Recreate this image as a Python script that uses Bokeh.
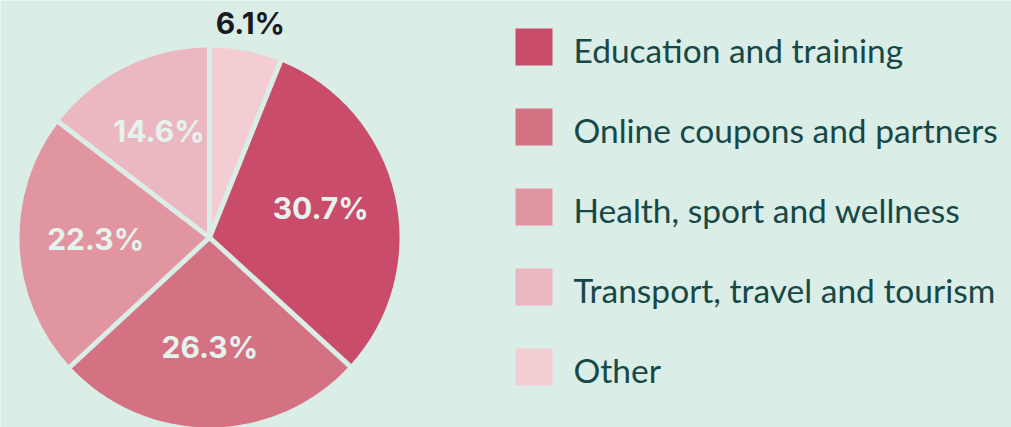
import math
from bokeh.plotting import figure
from bokeh.models import ColumnDataSource, Range1d
from bokeh.core.properties import value
from bokeh.embed import file_html
from bokeh.resources import INLINE

# ---- data ----
categories = ["Education and training", "Online coupons and partners",
              "Health, sport and wellness", "Transport, travel and tourism", "Other"]
shares = [30.7, 26.3, 22.3, 14.6, 6.1]
labels = ["30.7%", "26.3%", "22.3%", "14.6%", "6.1%"]
colors = ["#C94C6A", "#D47284", "#E095A1", "#EBB8C1", "#F2CDD2"]
# order of slices clockwise from 12 o'clock
pie_order = [4, 0, 1, 2, 3]

BG = "#DAEDE6"
W, H = 1011, 427
cx, cy, R = 209, 190, 190

p = figure(width=W, height=H, output_backend="svg", toolbar_location=None,
           x_range=Range1d(0, W), y_range=Range1d(0, H),
           x_axis_type=None, y_axis_type=None, min_border=0)
p.background_fill_color = BG
p.border_fill_color = BG
p.outline_line_color = None
p.xgrid.visible = False
p.ygrid.visible = False

total = sum(shares)
starts, ends, cols, mids = [], [], [], []
acc = 0.0
for i in pie_order:
    t0 = acc / total * 2 * math.pi
    acc += shares[i]
    t1 = acc / total * 2 * math.pi
    starts.append(math.pi / 2 - t0)
    ends.append(math.pi / 2 - t1)
    cols.append(colors[i])
    mids.append((i, (t0 + t1) / 2))

src = ColumnDataSource(dict(start=starts, end=ends, color=cols))
p.wedge(x=cx, y=cy, radius=R, start_angle="start", end_angle="end",
        direction="clock", fill_color="color", line_color=None, source=src)

# separators
sx0, sy0, sx1, sy1 = [], [], [], []
for a in starts:
    sx0.append(cx); sy0.append(cy)
    sx1.append(cx + (R + 3) * math.cos(a)); sy1.append(cy + (R + 3) * math.sin(a))
p.segment(x0=sx0, y0=sy0, x1=sx1, y1=sy1, line_color=BG, line_width=5)

# slice labels
lx, ly, lt, lc = [], [], [], []
for i, th in mids:
    if shares[i] < 10:
        r = 1.13 * R
        c = "#1B1B1F"
    else:
        r = 0.6 * R
        c = "#E6F2EE"
    lx.append(cx + r * math.sin(th))
    ly.append(cy + r * math.cos(th) + 4)
    lt.append(labels[i])
    lc.append(c)
p.text(x=lx, y=ly, text=lt, text_color=lc, text_align="center",
       text_baseline="middle", text_font=value("Inter"), text_font_style="bold",
       text_font_size="30px")

# legend
leg_x = 533.5
leg_y = [380.5 - 80 * k for k in range(len(categories))]
p.rect(x=[leg_x] * len(categories), y=leg_y, width=37, height=37,
       fill_color=colors, line_color=None)
p.text(x=[573] * len(categories), y=[v - 3 for v in leg_y], text=categories,
       text_color="#174848", text_align="left", text_baseline="middle",
       text_font=value("Lato"), text_font_size="33.5px")

html = file_html(p, INLINE)
open("out.html", "w").write(html)
